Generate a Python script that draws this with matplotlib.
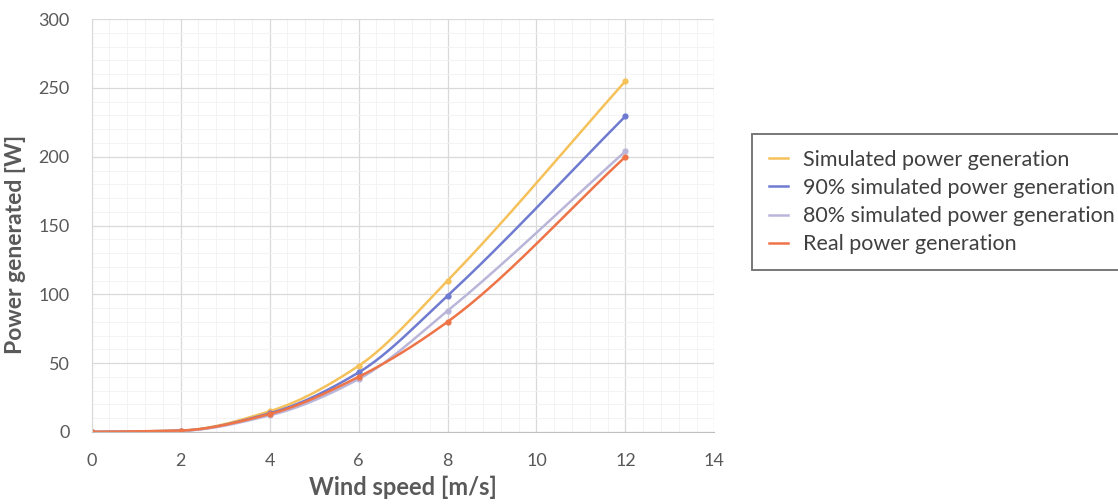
import numpy as np
import matplotlib
matplotlib.use("Agg")
import matplotlib.pyplot as plt
from matplotlib.ticker import MultipleLocator

plt.rcParams['font.family'] = ['Lato', 'DejaVu Sans']

wind = [0, 2, 4, 6, 8, 12]
simulated = [0, 1, 15, 48, 110, 255]
sim_90 = [0, 0.9, 13.5, 43.2, 99, 229.5]
sim_80 = [0, 0.8, 12, 38.4, 88, 204]
real = [0, 1, 13, 40, 80, 200]

labels = ['Simulated power generation', '90% simulated power generation',
          '80% simulated power generation', 'Real power generation']
colors = ['#F5C15A', '#6E7BD0', '#B9B6DA', '#EE7448']


def smooth(x, y, n=40):
    # monotone cubic through the points, no overshoot on the flat start
    x = np.asarray(x, float)
    y = np.asarray(y, float)
    h = np.diff(x)
    d = np.diff(y) / h
    m = np.zeros_like(y)
    m[0], m[-1] = d[0], d[-1]
    for i in range(1, len(x) - 1):
        if d[i - 1] * d[i] > 0:
            w1 = 2 * h[i] + h[i - 1]
            w2 = h[i] + 2 * h[i - 1]
            m[i] = (w1 + w2) / (w1 / d[i - 1] + w2 / d[i])
    xs, ys = [], []
    for i in range(len(x) - 1):
        t = np.linspace(0, 1, n)
        h00 = 2 * t**3 - 3 * t**2 + 1
        h10 = t**3 - 2 * t**2 + t
        h01 = -2 * t**3 + 3 * t**2
        h11 = t**3 - t**2
        xs.extend(x[i] + t * h[i])
        ys.extend(h00 * y[i] + h10 * h[i] * m[i] + h01 * y[i + 1] + h11 * h[i] * m[i + 1])
    return xs, ys


fig = plt.figure(figsize=(11.18, 5.04), dpi=100)
ax = fig.add_axes([0.082, 0.143, 0.557, 0.819])

for series, lab, c in zip([simulated, sim_90, sim_80, real], labels, colors):
    sx, sy = smooth(wind, series)
    ax.plot(sx, sy, color=c, lw=1.8, label=lab)
    ax.plot(wind, series, 'o', color=c, ms=4.5, markeredgewidth=0)

ax.set_xlim(0, 14)
ax.set_ylim(0, 300)
ax.xaxis.set_major_locator(MultipleLocator(2))
ax.yaxis.set_major_locator(MultipleLocator(50))
ax.xaxis.set_minor_locator(MultipleLocator(0.4))
ax.yaxis.set_minor_locator(MultipleLocator(10))
ax.grid(which='major', color='#d9d9d9', lw=0.9)
ax.grid(which='minor', color='#f3f3f3', lw=0.7)
ax.set_axisbelow(True)
for s in ['top', 'right']:
    ax.spines[s].set_visible(False)
ax.spines['left'].set_color('#d9d9d9')
ax.spines['bottom'].set_color('#bfbfbf')
ax.tick_params(which='both', length=0, labelsize=13, labelcolor='#595959')
ax.tick_params(axis='x', pad=15)
ax.tick_params(axis='y', pad=16)

ax.set_xlabel('Wind speed [m/s]', fontsize=17, fontweight='bold', color='#595959', labelpad=5)
ax.set_ylabel('Power generated [W]', fontsize=16.5, fontweight='bold', color='#595959', labelpad=6)
ax.yaxis.set_label_coords(-0.105, 0.455)

leg = fig.legend(loc='upper left', bbox_to_anchor=(0.673, 0.735), fontsize=15.5,
                 frameon=True, fancybox=False, handlelength=0.9, labelspacing=0.38,
                 borderpad=0.75, handletextpad=0.7, borderaxespad=0)
leg.get_frame().set_edgecolor('#555555')
leg.get_frame().set_linewidth(1.4)
for t in leg.get_texts():
    t.set_color('#404040')

fig.savefig('out.png', dpi=100)
